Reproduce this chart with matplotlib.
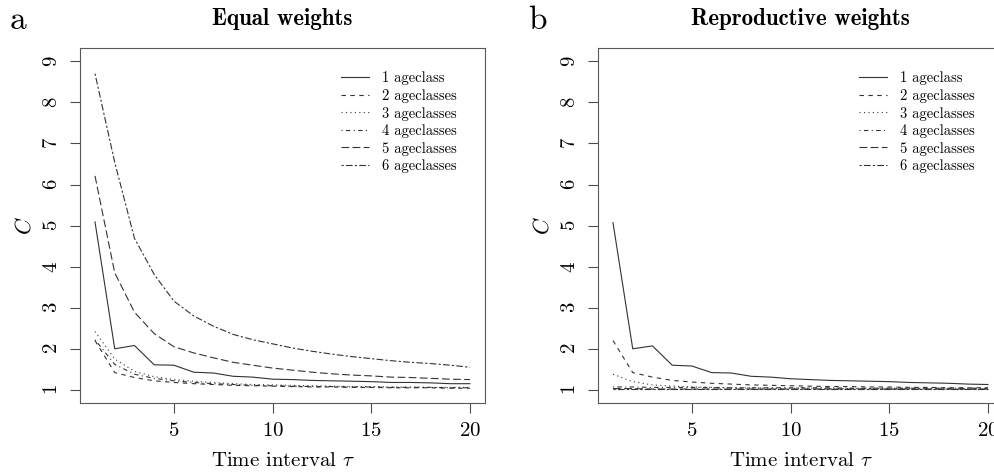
import matplotlib
matplotlib.use("Agg")
import matplotlib.pyplot as plt

plt.rcParams["font.family"] = ["cmr10", "DejaVu Serif"]
plt.rcParams["mathtext.fontset"] = "cm"
plt.rcParams["axes.formatter.use_mathtext"] = True

# time interval tau
tau = list(range(1, 21))

labels = ["1 ageclass", "2 ageclasses", "3 ageclasses",
          "4 ageclasses", "5 ageclasses", "6 ageclasses"]

# equal weights
eq_1 = [5.09, 2.00, 2.08, 1.61, 1.60, 1.43, 1.41, 1.33, 1.31, 1.26,
        1.25, 1.23, 1.22, 1.21, 1.20, 1.18, 1.18, 1.17, 1.15, 1.15]
eq_2 = [2.20, 1.42, 1.30, 1.22, 1.18, 1.15, 1.13, 1.11, 1.10, 1.09,
        1.08, 1.07, 1.07, 1.06, 1.06, 1.05, 1.05, 1.05, 1.04, 1.04]
eq_3 = [2.42, 1.75, 1.45, 1.32, 1.25, 1.21, 1.18, 1.15, 1.13, 1.12,
        1.11, 1.10, 1.09, 1.08, 1.08, 1.07, 1.07, 1.06, 1.06, 1.06]
eq_4 = [2.22, 1.62, 1.38, 1.28, 1.22, 1.18, 1.15, 1.13, 1.11, 1.10,
        1.09, 1.08, 1.08, 1.07, 1.07, 1.06, 1.06, 1.06, 1.05, 1.05]
eq_5 = [6.21, 3.85, 2.89, 2.37, 2.05, 1.90, 1.78, 1.67, 1.60, 1.53,
        1.48, 1.43, 1.39, 1.36, 1.34, 1.31, 1.30, 1.28, 1.26, 1.25]
eq_6 = [8.70, 6.54, 4.69, 3.81, 3.16, 2.80, 2.55, 2.35, 2.22, 2.12,
        2.02, 1.94, 1.87, 1.81, 1.76, 1.71, 1.67, 1.64, 1.60, 1.55]

# reproductive weights
rep_1 = [5.07, 2.00, 2.07, 1.60, 1.58, 1.42, 1.41, 1.33, 1.31, 1.27,
         1.25, 1.23, 1.22, 1.21, 1.20, 1.18, 1.17, 1.16, 1.14, 1.13]
rep_2 = [2.20, 1.42, 1.31, 1.23, 1.19, 1.16, 1.14, 1.12, 1.11, 1.10,
         1.09, 1.08, 1.08, 1.07, 1.07, 1.06, 1.06, 1.05, 1.05, 1.05]
rep_3 = [1.38, 1.20, 1.12, 1.09, 1.07, 1.06, 1.05, 1.05, 1.04, 1.04,
         1.04, 1.03, 1.03, 1.03, 1.03, 1.03, 1.02, 1.02, 1.02, 1.02]
rep_4 = [1.07, 1.07, 1.06, 1.06, 1.06, 1.06, 1.05, 1.05, 1.05, 1.05,
         1.05, 1.05, 1.04, 1.04, 1.04, 1.04, 1.04, 1.04, 1.04, 1.04]
rep_5 = [1.03, 1.03, 1.02, 1.02, 1.02, 1.02, 1.02, 1.02, 1.02, 1.02,
         1.02, 1.02, 1.02, 1.02, 1.02, 1.02, 1.02, 1.02, 1.02, 1.02]
rep_6 = [1.01, 1.01, 1.01, 1.01, 1.01, 1.01, 1.01, 1.01, 1.01, 1.01,
         1.01, 1.01, 1.01, 1.01, 1.01, 1.01, 1.01, 1.01, 1.01, 1.01]

# R line types: solid, dashed, dotted, dotdash, longdash, twodash
dashes = [(), (4, 4), (1, 3), (1, 3, 4, 3), (7, 3), (2, 2, 6, 2)]


def draw_panel(ax, series, title, letter):
    for vals, lab, d in zip(series, labels, dashes):
        line, = ax.plot(tau, vals, color="0.2", lw=0.8, label=lab)
        if d:
            line.set_dashes(d)
    ax.set_xlim(0.24, 20.76)
    ax.set_ylim(0.68, 9.32)
    ax.set_xticks([5, 10, 15, 20])
    ax.set_yticks(range(1, 10))
    ax.tick_params(direction="out", length=7, width=0.8, labelsize=15,
                   pad=7, color="0.3")
    for t in ax.get_yticklabels():
        t.set_rotation(90)
        t.set_va("center")
    for s in ax.spines.values():
        s.set_linewidth(0.8)
        s.set_color("0.35")
    ax.set_xlabel(r"Time interval $\tau$", fontsize=15, labelpad=8)
    ax.set_ylabel(r"$C$", fontsize=16, labelpad=6)
    ax.set_title(title, fontsize=16.5, family="cmb10", pad=17)
    ax.text(-0.173, 1.079, letter, transform=ax.transAxes, fontsize=24,
            va="center", ha="left")
    ax.legend(loc="upper right", bbox_to_anchor=(0.93, 0.935), frameon=False,
              fontsize=10.5, handlelength=1.9, handletextpad=0.9,
              labelspacing=0.25, borderpad=0, borderaxespad=0)


fig = plt.figure(figsize=(9.95, 4.75), dpi=100)
ax1 = fig.add_axes([0.0804, 0.1516, 0.407, 0.747])
ax2 = fig.add_axes([0.601, 0.1516, 0.407, 0.747])

draw_panel(ax1, [eq_1, eq_2, eq_3, eq_4, eq_5, eq_6], "Equal weights", "a")
draw_panel(ax2, [rep_1, rep_2, rep_3, rep_4, rep_5, rep_6],
           "Reproductive weights", "b")

fig.savefig("out.png", dpi=100)
